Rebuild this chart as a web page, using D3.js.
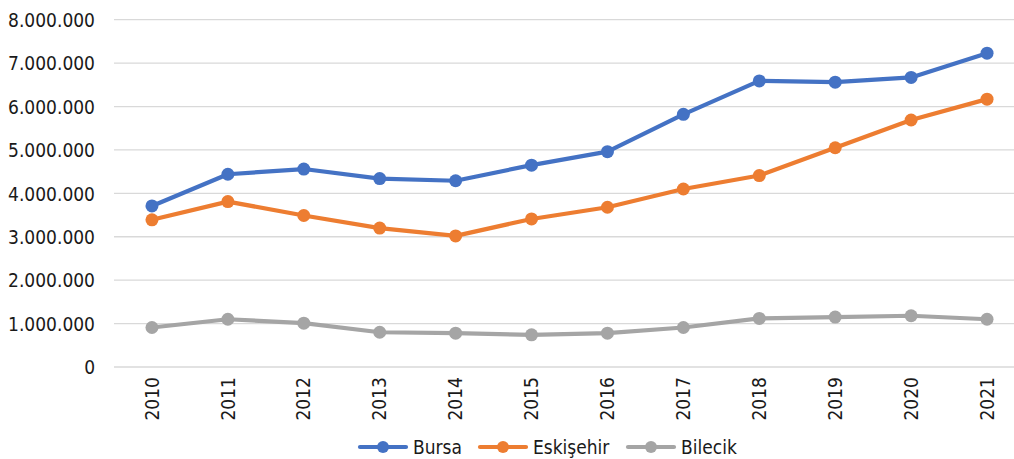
<!DOCTYPE html>
<html>
<head>
<meta charset="utf-8">
<script src="https://cdn.jsdelivr.net/npm/d3@7"></script>
<style>
  html, body { margin: 0; padding: 0; background: #fff; }
  svg text { font-family: "Liberation Sans Narrow", "DejaVu Sans Condensed", "Roboto", sans-serif; fill: #1a1a1a; }
</style>
</head>
<body>
<svg id="chart" width="1014" height="459"></svg>
<script>
const years = ["2010","2011","2012","2013","2014","2015","2016","2017","2018","2019","2020","2021"];
const bursa     = [3710000, 4440000, 4560000, 4340000, 4290000, 4650000, 4960000, 5820000, 6590000, 6560000, 6670000, 7230000];
const eskisehir = [3390000, 3810000, 3490000, 3200000, 3020000, 3410000, 3680000, 4100000, 4410000, 5050000, 5690000, 6170000];
const bilecik   = [910000, 1100000, 1010000, 800000, 780000, 740000, 780000, 910000, 1120000, 1150000, 1180000, 1100000];
const yTicks = [0, 1000000, 2000000, 3000000, 4000000, 5000000, 6000000, 7000000, 8000000];
const seriesNames = ["Bursa", "Eskişehir", "Bilecik"];
const seriesColors = ["#4472C4", "#ED7D31", "#A5A5A5"];

const series = [bursa, eskisehir, bilecik].map((vals, i) => ({
  name: seriesNames[i], color: seriesColors[i], values: vals
}));

const svg = d3.select("#chart");
const plot = { left: 114, right: 1025, top: 19.7, bottom: 367 };

const x = d3.scaleBand().domain(years).range([plot.left, plot.right]);
const y = d3.scaleLinear().domain([0, 8000000]).range([plot.bottom, plot.top]);

const fmt = v => v === 0 ? "0" : d3.format(",")(v).replace(/,/g, ".");

// horizontal grid
svg.append("g")
  .selectAll("line").data(yTicks).join("line")
  .attr("x1", plot.left).attr("x2", plot.right)
  .attr("y1", d => y(d)).attr("y2", d => y(d))
  .attr("stroke", "#d9d9d9").attr("stroke-width", 1.3);

// y axis labels
const yAxis = d3.axisLeft(y).tickValues(yTicks).tickFormat(fmt).tickSize(0).tickPadding(0);
svg.append("g")
  .attr("transform", `translate(95,0)`)
  .call(yAxis)
  .call(g => g.select(".domain").remove())
  .call(g => g.attr("font-family", null).attr("font-size", null))
  .call(g => g.selectAll("text").attr("font-size", 19).attr("dy", "0.35em").attr("fill", "#1a1a1a"));

// x axis labels, rotated
const xAxis = d3.axisBottom(x).tickSize(0).tickPadding(0);
svg.append("g")
  .attr("transform", `translate(0,${plot.bottom})`)
  .call(xAxis)
  .call(g => g.select(".domain").remove())
  .call(g => g.attr("font-family", null).attr("font-size", null))
  .call(g => g.selectAll("text")
    .attr("font-size", 19)
    .attr("fill", "#1a1a1a")
    .attr("text-anchor", "end")
    .attr("transform", "rotate(-90)")
    .attr("x", -10).attr("y", 0).attr("dy", "0.35em"));

const cx = d => x(d) + x.bandwidth() / 2;
const line = d3.line().x((d, i) => cx(years[i])).y(d => y(d));

const marks = svg.append("g");
series.forEach(s => {
  marks.append("path")
    .attr("d", line(s.values))
    .attr("fill", "none")
    .attr("stroke", s.color)
    .attr("stroke-width", 4.2)
    .attr("stroke-linejoin", "round");
  marks.selectAll(null).data(s.values).join("circle")
    .attr("cx", (d, i) => cx(years[i]))
    .attr("cy", d => y(d))
    .attr("r", 6.5)
    .attr("fill", s.color);
});

// legend
const legendX = [360, 480, 628];
const legendY = 447;
const lg = svg.append("g");
series.forEach((s, i) => {
  const lx = legendX[i];
  lg.append("line")
    .attr("x1", lx).attr("x2", lx + 46)
    .attr("y1", legendY).attr("y2", legendY)
    .attr("stroke", s.color).attr("stroke-width", 4.2).attr("stroke-linecap", "round");
  lg.append("circle").attr("cx", lx + 23).attr("cy", legendY).attr("r", 6).attr("fill", s.color);
  lg.append("text")
    .attr("x", lx + 53).attr("y", legendY).attr("dy", "0.35em")
    .attr("font-size", 19)
    .text(s.name);
});
</script>
</body>
</html>
